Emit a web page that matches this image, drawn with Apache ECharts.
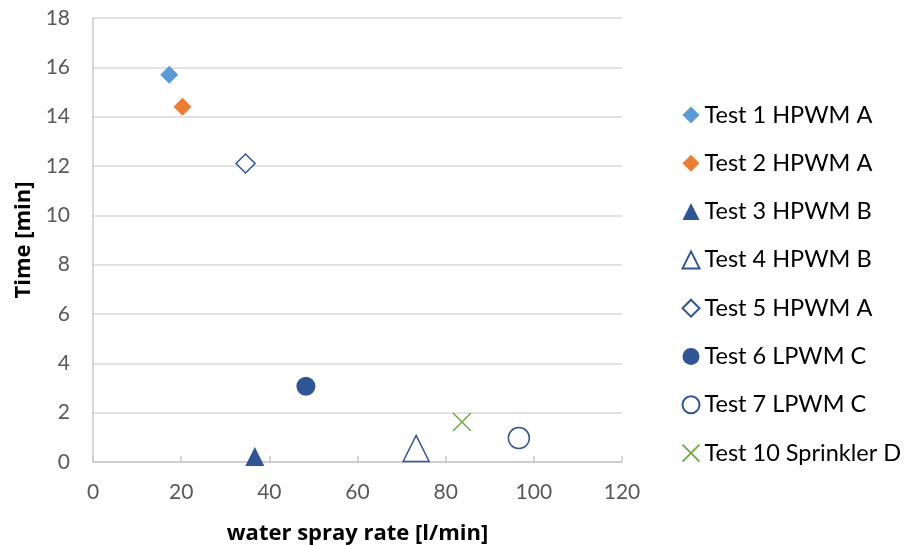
<!DOCTYPE html>
<html>
<head>
<meta charset="utf-8">
<script src="https://cdn.jsdelivr.net/npm/echarts@6/dist/echarts.min.js"></script>
<style>
  html, body { margin: 0; padding: 0; background: #fff; }
  #chart { width: 909px; height: 545px; }
</style>
</head>
<body>
<div id="chart"></div>
<script>
// Each test: water spray rate [l/min] and time [min]
const seriesNames = [
  'Test 1 HPWM A', 'Test 2 HPWM A', 'Test 3 HPWM B', 'Test 4 HPWM B',
  'Test 5 HPWM A', 'Test 6 LPWM C', 'Test 7 LPWM C', 'Test 10 Sprinkler D'
];
const sprayRate = [17.3, 20.3, 36.7, 73.3, 34.6, 48.3, 96.6, 83.7];
const timeMin   = [15.7, 14.4, 0.22, 0.55, 12.1, 3.07, 0.97, 1.62];

const xTicks = { min: 0, max: 120, interval: 20 };
const yTicks = { min: 0, max: 18, interval: 2 };

const DARK = '#2F5597';
const CROSS = 'path://M0,0L10,10M10,0L0,10';

// marker look per test
const markerStyles = [
  { symbol: 'diamond',  size: 18, fill: '#5B9BD5', stroke: null },
  { symbol: 'diamond',  size: 18, fill: '#ED7D31', stroke: null },
  { symbol: 'triangle', size: [19, 19], fill: DARK, stroke: null },
  { symbol: 'triangle', size: [26, 26], fill: '#ffffff', stroke: DARK },
  { symbol: 'diamond',  size: 19, fill: '#ffffff', stroke: DARK },
  { symbol: 'circle',   size: 19, fill: DARK, stroke: null },
  { symbol: 'circle',   size: 21, fill: '#ffffff', stroke: DARK },
  { symbol: CROSS,      size: 18, fill: 'none', stroke: '#70AD47' }
];

const FONT = 'Lato, "Open Sans", sans-serif';
const TITLE_FONT = '"Open Sans", sans-serif';

const series = seriesNames.map((name, i) => {
  const m = markerStyles[i];
  return {
    name: name,
    type: 'scatter',
    symbol: m.symbol,
    symbolSize: m.size,
    itemStyle: {
      color: m.fill,
      borderColor: m.stroke || m.fill,
      borderWidth: m.stroke ? 1.5 : 0,
      opacity: 1
    },
    emphasis: { disabled: true },
    data: [[sprayRate[i], timeMin[i]]]
  };
});

const chart = echarts.init(document.getElementById('chart'), null, { renderer: 'canvas' });
chart.setOption({
  animation: false,
  backgroundColor: '#ffffff',
  grid: { left: 93, right: 287, top: 18, bottom: 83, containLabel: false, outerBoundsMode: 'none' },
  xAxis: {
    type: 'value',
    min: xTicks.min, max: xTicks.max, interval: xTicks.interval,
    name: 'water spray rate [l/min]',
    nameLocation: 'middle',
    nameGap: 61,
    nameTextStyle: { color: '#000', fontSize: 22, fontWeight: 'bold', fontFamily: TITLE_FONT },
    axisLine: { show: true, lineStyle: { color: '#c8c8c8', width: 1.5 } },
    axisTick: { show: true, inside: true, length: 6, lineStyle: { color: '#c8c8c8', width: 1.5 } },
    axisLabel: { color: '#595959', fontSize: 21, fontFamily: FONT, margin: 20 },
    splitLine: { show: false }
  },
  yAxis: {
    type: 'value',
    min: yTicks.min, max: yTicks.max, interval: yTicks.interval,
    name: 'Time [min]',
    nameLocation: 'middle',
    nameGap: 57,
    nameTextStyle: { color: '#000', fontSize: 22, fontWeight: 'bold', fontFamily: TITLE_FONT },
    axisLine: { show: true, lineStyle: { color: '#c8c8c8', width: 1.5 } },
    axisTick: { show: false },
    axisLabel: { color: '#595959', fontSize: 21, fontFamily: FONT, margin: 23 },
    splitLine: { show: true, lineStyle: { color: '#d9d9d9', width: 1.5 } }
  },
  legend: {
    orient: 'vertical',
    left: 675,
    top: 98,
    itemWidth: 17,
    itemHeight: 17,
    itemGap: 24.3,
    textStyle: { color: '#000', fontSize: 23.5, fontFamily: FONT },
    data: seriesNames
  },
  series: series
});
</script>
</body>
</html>
